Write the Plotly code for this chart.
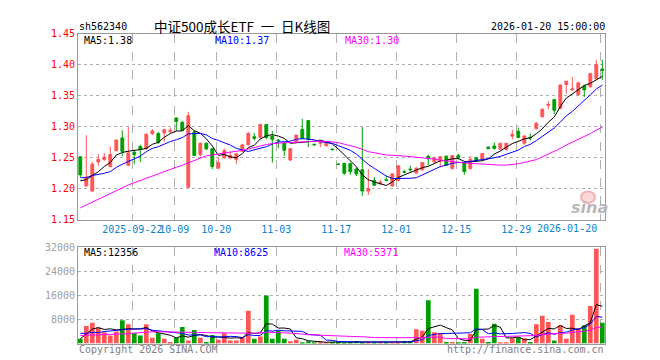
import plotly.graph_objects as go

# ---------------- data ----------------
tick_idx = [9, 16, 23, 33, 43, 53, 63, 73, 87]
tick_labels = ["2025-09-22", "10-09", "10-20", "11-03", "11-17",
               "12-01", "12-15", "12-29", "2026-01-20"]

opens = [1.2516, 1.2047, 1.1964, 1.2432, 1.2474, 1.2359, 1.2615, 1.2818, 1.2380, 1.2589,
         1.2682, 1.2646, 1.2891, 1.2891, 1.2901, 1.2922, 1.3141, 1.3073, 1.2026, 1.2917,
         1.2552, 1.2734, 1.2646, 1.2333, 1.2500, 1.2495, 1.2474, 1.2604, 1.2708, 1.2839,
         1.2828, 1.3036, 1.2849, 1.2786, 1.2734, 1.2464, 1.2760, 1.2958, 1.3099, 1.2719,
         1.2734, 1.2693, 1.2641, 1.2401, 1.2406, 1.2406, 1.2318, 1.2307, 1.1964, 1.2135,
         1.2089, 1.2146, 1.2047, 1.2135, 1.2276, 1.2318, 1.2255, 1.2307, 1.2526, 1.2432,
         1.2448, 1.2526, 1.2328, 1.2536, 1.2422, 1.2328, 1.2500, 1.2474, 1.2672, 1.2688,
         1.2641, 1.2630, 1.2849, 1.2927, 1.2734, 1.2828, 1.2969, 1.3161, 1.3344, 1.3438,
         1.3297, 1.3682, 1.3594, 1.3516, 1.3656, 1.3646, 1.3776, 1.3932]
highs = [1.2526, 1.2865, 1.2432, 1.2563, 1.2578, 1.2682, 1.2797, 1.2943, 1.2995, 1.2630,
         1.2708, 1.2891, 1.2964, 1.2917, 1.2969, 1.2984, 1.3151, 1.3089, 1.3240, 1.2943,
         1.2745, 1.2745, 1.2656, 1.2500, 1.2646, 1.2604, 1.2568, 1.2719, 1.2917, 1.2901,
         1.3047, 1.3036, 1.2932, 1.2797, 1.2760, 1.2656, 1.2865, 1.3125, 1.3099, 1.2724,
         1.2786, 1.2745, 1.2646, 1.2406, 1.2422, 1.2422, 1.2344, 1.2995, 1.2318, 1.2188,
         1.2146, 1.2203, 1.2250, 1.2380, 1.2307, 1.2370, 1.2344, 1.2432, 1.2552, 1.2516,
         1.2526, 1.2536, 1.2536, 1.2568, 1.2422, 1.2526, 1.2516, 1.2578, 1.2682, 1.2745,
         1.2734, 1.2734, 1.2953, 1.2984, 1.2865, 1.2891, 1.3073, 1.3297, 1.3411, 1.3448,
         1.3682, 1.3734, 1.3802, 1.3724, 1.3682, 1.3870, 1.4078, 1.4078]
lows = [1.2188, 1.2031, 1.1953, 1.2370, 1.2448, 1.2344, 1.2604, 1.2526, 1.2370, 1.2396,
        1.2432, 1.2630, 1.2865, 1.2724, 1.2760, 1.2891, 1.2932, 1.2932, 1.2016, 1.2526,
        1.2516, 1.2630, 1.2318, 1.2318, 1.2484, 1.2484, 1.2396, 1.2594, 1.2698, 1.2776,
        1.2813, 1.2797, 1.2422, 1.2656, 1.2526, 1.2448, 1.2745, 1.2797, 1.2672, 1.2703,
        1.2672, 1.2682, 1.2625, 1.2385, 1.2224, 1.2224, 1.2203, 1.1885, 1.1901, 1.2047,
        1.2057, 1.2120, 1.2031, 1.2120, 1.2255, 1.2276, 1.2240, 1.2292, 1.2380, 1.2422,
        1.2344, 1.2370, 1.2307, 1.2474, 1.2224, 1.2307, 1.2432, 1.2448, 1.2641, 1.2630,
        1.2630, 1.2620, 1.2797, 1.2813, 1.2708, 1.2776, 1.2958, 1.3151, 1.3281, 1.3203,
        1.3281, 1.3526, 1.3578, 1.3505, 1.3479, 1.3630, 1.3766, 1.3750]
closes = [1.2224, 1.2188, 1.2396, 1.2474, 1.2510, 1.2552, 1.2786, 1.2604, 1.2578, 1.2552,
          1.2641, 1.2880, 1.2932, 1.2745, 1.2953, 1.2943, 1.3083, 1.2943, 1.3177, 1.2536,
          1.2734, 1.2641, 1.2359, 1.2422, 1.2615, 1.2536, 1.2563, 1.2708, 1.2891, 1.2813,
          1.3036, 1.2828, 1.2797, 1.2776, 1.2620, 1.2646, 1.2865, 1.2813, 1.2797, 1.2708,
          1.2745, 1.2734, 1.2630, 1.2391, 1.2250, 1.2276, 1.2240, 1.1964, 1.2005, 1.2057,
          1.2109, 1.2135, 1.2240, 1.2370, 1.2266, 1.2307, 1.2333, 1.2422, 1.2484, 1.2500,
          1.2516, 1.2380, 1.2536, 1.2500, 1.2276, 1.2474, 1.2448, 1.2568, 1.2646, 1.2651,
          1.2734, 1.2734, 1.2880, 1.2828, 1.2849, 1.2818, 1.3057, 1.3281, 1.3359, 1.3266,
          1.3672, 1.3734, 1.3609, 1.3708, 1.3594, 1.3854, 1.4000, 1.3906]
volumes = [1600, 5867, 6933, 5333, 3733, 2667, 4053, 7787, 6400, 3520,
           2667, 6400, 1920, 3413, 1600, 533, 1920, 5547, 1067, 4480,
           1920, 533, 2880, 1280, 3413, 1067, 1067, 2133, 10880, 1600,
           2347, 16000, 1600, 4267, 1600, 747, 1280, 320, 747, 427,
           533, 320, 533, 533, 320, 533, 853, 533, 400, 400,
           400, 400, 400, 450, 800, 800, 4800, 4267, 14400, 3733,
           3520, 533, 533, 320, 533, 3200, 18240, 1600, 533, 6613,
           320, 320, 1813, 2133, 1813, 533, 6400, 9280, 7147, 1067,
           6080, 1600, 9600, 5013, 6080, 12480, 31467, 6933]

ma5_head = [1.2130, 1.2146, 1.2214, 1.2276]
ma10_head = [1.2177, 1.2182, 1.2214, 1.2229, 1.2250, 1.2276, 1.2344, 1.2396, 1.2438]
ma30_head = [1.1692, 1.1739, 1.1786, 1.1828, 1.1874, 1.1921, 1.1968, 1.2015, 1.2062, 1.2098,
             1.2135, 1.2171, 1.2208, 1.2244, 1.2281, 1.2317, 1.2348, 1.2380, 1.2421, 1.2458,
             1.2500, 1.2531, 1.2547, 1.2562, 1.2567, 1.2583, 1.2598, 1.2619, 1.2640]
vma5_head = [1600, 3200, 4800, 5300]
vma10_head = [3400, 3400, 3700, 3700, 4000, 4250, 4300, 4700, 4800]
vma30_head = [2700, 2750, 2800, 2850, 2900, 2950, 3000, 3100, 3300, 3500,
              3700, 3850, 3900, 3950, 3950, 3950, 3950, 3800, 3750, 3700,
              3650, 3600, 3550, 3500, 3500, 3450, 3450, 3400, 3450]


def sma(vals, n, head):
    out = list(head)
    for i in range(len(head), len(vals)):
        out.append(sum(vals[i - n + 1:i + 1]) / n)
    return out


idx = list(range(len(closes)))
ma5 = sma(closes, 5, ma5_head)
ma10 = sma(closes, 10, ma10_head)
ma30 = sma(closes, 30, ma30_head)
vma5 = sma(volumes, 5, vma5_head)
vma10 = sma(volumes, 10, vma10_head)
vma30 = sma(volumes, 30, vma30_head)

# ---------------- style ----------------
RED = "#ff5555"
GREEN = "#009f00"
MONO = "DejaVu Sans Mono"
GRID = "#b0b0b0"
BORDER = "#9a9a9a"

W, H = 660, 360
X0, X1 = 70, 597
MAIN_TOP, MAIN_BOT = 20.3, 212.3
VOL_TOP, VOL_BOT = 240.5, 340
xdom = [X0 / W, X1 / W]
xrange_ = [-0.383, 87.45]
grid_pos = [t - 0.333 for t in tick_idx]

fig = go.Figure()
fig.add_trace(go.Candlestick(
    x=idx, open=opens, high=highs, low=lows, close=closes,
    increasing=dict(line=dict(color=RED, width=1), fillcolor=RED),
    decreasing=dict(line=dict(color=GREEN, width=1), fillcolor=GREEN),
    whiskerwidth=0, hoverinfo="skip", xaxis="x", yaxis="y"))
for vals, col in [(ma5, "black"), (ma10, "#0000ff"), (ma30, "#ff00ff")]:
    fig.add_trace(go.Scatter(x=idx, y=vals, mode="lines", line=dict(color=col, width=1),
                             hoverinfo="skip", xaxis="x", yaxis="y"))

vcolors = [RED if c >= o else GREEN for o, c in zip(opens, closes)]
fig.add_trace(go.Bar(x=idx, y=volumes, marker=dict(color=vcolors, line=dict(width=0)),
                     hoverinfo="skip", xaxis="x2", yaxis="y2"))
for vals, col in [(vma5, "black"), (vma10, "#0000ff"), (vma30, "#ff00ff")]:
    fig.add_trace(go.Scatter(x=idx, y=vals, mode="lines", line=dict(color=col, width=1),
                             hoverinfo="skip", xaxis="x2", yaxis="y2"))

common_x = dict(domain=xdom, range=xrange_, tickmode="array", tickvals=grid_pos,
                showgrid=True, gridcolor=GRID, griddash="dash", gridwidth=1,
                showline=True, mirror=True, linecolor=BORDER, linewidth=1,
                zeroline=False, ticks="", tickangle=0, fixedrange=True)

yt_main = [1.15, 1.20, 1.25, 1.30, 1.35, 1.40, 1.45]
yt_vol = [8000, 16000, 24000, 32000]

fig.update_layout(
    width=W, height=H, margin=dict(l=0, r=0, t=0, b=0),
    paper_bgcolor="white", plot_bgcolor="white", showlegend=False,
    boxgap=0.33, bargap=0.22,
    xaxis=dict(**common_x, anchor="y",
               ticktext=tick_labels[:-1] + [""],
               tickfont=dict(family=MONO, size=10, color="#0a84c8"),
               rangeslider=dict(visible=False)),
    yaxis=dict(domain=[1 - MAIN_BOT / H, 1 - MAIN_TOP / H], range=[1.15, 1.45],
               tickmode="array", tickvals=yt_main, ticktext=["%.2f" % v for v in yt_main],
               tickfont=dict(family=MONO, size=10, color="#ff0000"),
               showgrid=True, gridcolor=GRID, griddash="dot", gridwidth=1,
               showline=True, mirror=True, linecolor=BORDER, linewidth=1,
               zeroline=False, ticks="", fixedrange=True, anchor="x"),
    xaxis2=dict(**common_x, anchor="y2", ticktext=[""] * len(grid_pos), showticklabels=False),
    yaxis2=dict(domain=[1 - VOL_BOT / H, 1 - VOL_TOP / H], range=[0, 32000],
                tickmode="array", tickvals=yt_vol, ticktext=[str(v) for v in yt_vol],
                tickfont=dict(family=MONO, size=10, color="#a0a0a0"),
                showgrid=True, gridcolor=GRID, griddash="dot", gridwidth=1,
                showline=True, mirror=True, linecolor=BORDER, linewidth=1,
                zeroline=False, ticks="", fixedrange=True, anchor="x2"),
)


def ann(text, x, y, color="black", size=10, family=MONO, xanchor="left", **kw):
    fig.add_annotation(text=text, x=x / W, y=1 - y / H, xref="paper", yref="paper",
                       xanchor=xanchor, yanchor="middle", showarrow=False,
                       font=dict(family=family, size=size, color=color), **kw)


ann("sh562340", 69, 13)
ann("中证500成长ETF\u2002一\u2002日K线图", 234, 12, size=13.5, family="Noto Sans CJK SC",
    xanchor="center", height=16)
ann("2026-01-20 15:00:00", 599, 13, xanchor="right")
ann("MA5:1.38", 74, 27.5)
ann("MA10:1.37", 205, 27.5, color="#0000ff")
ann("MA30:1.30", 335, 27.5, color="#ff00ff")
ann("MA5:12356", 74, 246)
ann("MA10:8625", 204, 246, color="#0000ff")
ann("MA30:5371", 334, 246, color="#ff00ff")
ann("Copyright 2026 SINA.COM", 69, 346, color="#808080")
ann("http://finance.sina.com.cn", 598, 346, color="#808080", xanchor="right")
# last date label, pulled left of its grid line
fig.add_annotation(text=tick_labels[-1], x=grid_pos[-1], y=1 - 221.7 / H, xref="x", yref="paper",
                   xanchor="right", yanchor="middle", xshift=-1, showarrow=False,
                   font=dict(family=MONO, size=10, color="#0a84c8"))
# sina watermark
fig.add_shape(type="circle", xref="paper", yref="paper",
              x0=573 / W, x1=587 / W, y0=1 - 195 / H, y1=1 - 183 / H,
              line=dict(color="#f3b0b0", width=2), fillcolor="rgba(240,150,150,0.35)")
fig.add_annotation(text="sina", x=581 / W, y=1 - 200 / H, xref="paper", yref="paper",
                   xanchor="center", yanchor="middle", showarrow=False,
                   font=dict(family="DejaVu Sans", size=16, color="#b8b8b8",
                             weight="bold", style="italic"))

fig.write_html("out.html")
